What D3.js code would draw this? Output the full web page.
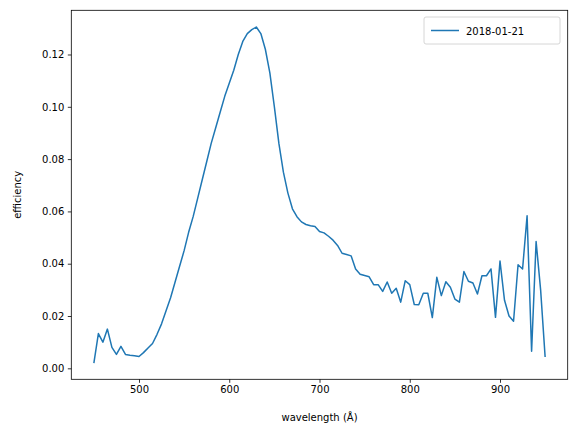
<!DOCTYPE html>
<html>
<head>
<meta charset="utf-8">
<script src="https://cdn.jsdelivr.net/npm/d3@7"></script>
<style>
body { margin: 0; background: #fff; }
svg text { font-family: "DejaVu Sans", sans-serif; }
</style>
</head>
<body>
<script>
const w = 576, h = 436;
const seriesName = "2018-01-21";
const wavelengths = d3.range(450, 951, 5);
const efficiency = [
    0.002, 0.0133, 0.010, 0.015, 0.008, 0.0053, 0.0084, 0.0053, 0.005, 0.0048,
    0.0045, 0.006, 0.0078, 0.0095, 0.013, 0.017, 0.022, 0.027, 0.033, 0.039,
    0.045, 0.052, 0.058, 0.065, 0.072, 0.079, 0.086, 0.092, 0.098, 0.104,
    0.109, 0.114, 0.120, 0.125, 0.128, 0.1295, 0.1305, 0.128, 0.122, 0.113,
    0.100, 0.086, 0.075, 0.067, 0.061, 0.058, 0.056, 0.055, 0.0545, 0.0542,
    0.0523, 0.0518, 0.0505, 0.049, 0.047, 0.044, 0.0435, 0.043, 0.038, 0.036,
    0.0355, 0.035, 0.032, 0.032, 0.0294, 0.033, 0.0287, 0.0306, 0.0253, 0.0335,
    0.032, 0.0244, 0.0243, 0.0287, 0.0287, 0.0194, 0.0348, 0.0278, 0.0331, 0.031,
    0.0265, 0.0253, 0.037, 0.0333, 0.0326, 0.0284, 0.0354, 0.0354, 0.038, 0.0195,
    0.041, 0.026, 0.020, 0.018, 0.0396, 0.038, 0.0583, 0.0065, 0.0485, 0.030,
    0.0043
];
const xTicks = [500, 600, 700, 800, 900];
const yTicks = [0, 0.02, 0.04, 0.06, 0.08, 0.10, 0.12];

const padLeft = 71.3, padRight = 567.7, padTop = 10.3, padBottom = 379.3;
const color = "#1f77b4";

const svg = d3.select("body").append("svg")
    .attr("width", w).attr("height", h);

const xScale = d3.scaleLinear().domain([425, 975]).range([padLeft, padRight]);
const yScale = d3.scaleLinear().domain([-0.0042, 0.1369]).range([padBottom, padTop]);

const data = wavelengths.map((d, i) => ({ x: d, y: efficiency[i] }));

svg.append("path")
    .datum(data)
    .attr("fill", "none")
    .attr("stroke", color)
    .attr("stroke-width", 1.5)
    .attr("stroke-linejoin", "round")
    .attr("d", d3.line().x(d => xScale(d.x)).y(d => yScale(d.y)));

const xAxis = svg.append("g")
    .attr("transform", "translate(0," + padBottom + ")")
    .call(d3.axisBottom(xScale).tickValues(xTicks).tickSize(3.5).tickPadding(3.5).tickFormat(d3.format("d")));
const yAxis = svg.append("g")
    .attr("transform", "translate(" + padLeft + ",0)")
    .call(d3.axisLeft(yScale).tickValues(yTicks).tickSize(3.5).tickPadding(3.5).tickFormat(d3.format(".2f")));
[xAxis, yAxis].forEach(a => {
    a.select(".domain").remove();
    a.selectAll("line").attr("stroke", "#000").attr("stroke-width", 0.8);
    a.selectAll("text").attr("fill", "#000").style("font-size", "10px");
});

svg.append("rect")
    .attr("x", padLeft).attr("y", padTop)
    .attr("width", padRight - padLeft).attr("height", padBottom - padTop)
    .attr("fill", "none").attr("stroke", "#000").attr("stroke-width", 0.8);

svg.append("text")
    .attr("x", (padLeft + padRight) / 2).attr("y", 421)
    .attr("text-anchor", "middle").style("font-size", "10px")
    .text("wavelength (Å)");
svg.append("text")
    .attr("transform", "translate(21," + (padTop + padBottom) / 2 + ") rotate(-90)")
    .attr("text-anchor", "middle").style("font-size", "10px")
    .text("efficiency");

// legend
const lg = svg.append("g");
lg.append("rect")
    .attr("x", 424).attr("y", 17).attr("width", 136).attr("height", 27)
    .attr("rx", 2).attr("fill", "#fff").attr("stroke", "#ccc").attr("stroke-width", 0.8);
lg.append("line")
    .attr("x1", 431).attr("x2", 459).attr("y1", 30.5).attr("y2", 30.5)
    .attr("stroke", color).attr("stroke-width", 1.5);
lg.append("text")
    .attr("x", 466).attr("y", 34.5).style("font-size", "10px")
    .text(seriesName);
</script>
</body>
</html>
